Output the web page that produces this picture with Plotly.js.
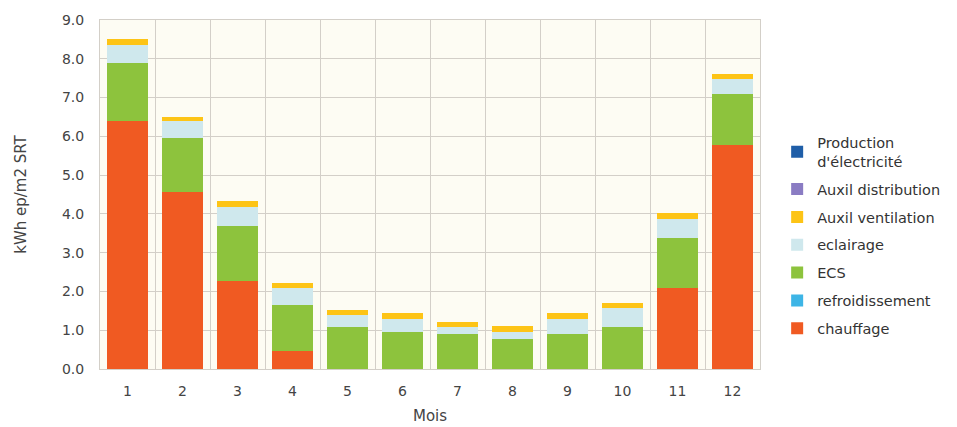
<!DOCTYPE html>
<html><head><meta charset="utf-8">
<script src="https://cdn.plot.ly/plotly-3.0.1.min.js"></script>
<style>html,body{margin:0;padding:0;background:#fff;}#chart{width:957px;height:427px;}</style>
</head><body><div id="chart"></div>
<script>
const months = ['1','2','3','4','5','6','7','8','9','10','11','12'];
const chauffage = [6.40, 4.57, 2.28, 0.47, 0, 0, 0, 0, 0, 0, 2.09, 5.77];
const refroidissement = [0,0,0,0,0,0,0,0,0,0,0,0];
const ecs = [1.50, 1.40, 1.40, 1.19, 1.09, 0.96, 0.90, 0.78, 0.90, 1.09, 1.29, 1.31];
const eclairage = [0.45, 0.43, 0.50, 0.43, 0.31, 0.32, 0.18, 0.18, 0.38, 0.49, 0.49, 0.39];
const auxilVentilation = [0.15, 0.11, 0.14, 0.12, 0.11, 0.16, 0.13, 0.16, 0.16, 0.13, 0.15, 0.15];
const auxilDistribution = [0,0,0,0,0,0,0,0,0,0,0,0];
const production = [0,0,0,0,0,0,0,0,0,0,0,0];
const yTicks = [0,1,2,3,4,5,6,7,8,9];
const yTickLabels = ['0.0','1.0','2.0','3.0','4.0','5.0','6.0','7.0','8.0','9.0'];

const series = [
  {name:'chauffage', y:chauffage, color:'#f05a22'},
  {name:'refroidissement', y:refroidissement, color:'#3db5e6'},
  {name:'ECS', y:ecs, color:'#8dc33d'},
  {name:'eclairage', y:eclairage, color:'#cfe8ed'},
  {name:'Auxil ventilation', y:auxilVentilation, color:'#fdc416'},
  {name:'Auxil distribution', y:auxilDistribution, color:'#8a7cc3'},
  {name:'Production<br>d\'électricité', y:production, color:'#1f5ea8'}
];
const n = series.length;
const traces = series.map((s,i)=>({
  type:'bar', x:months, y:s.y, name:s.name, legendgroup:'g'+i, legendrank:n-i,
  marker:{color:s.color, line:{width:0}}, hoverinfo:'skip'
}));
const F = 'DejaVu Sans, sans-serif';
Plotly.newPlot('chart', traces, {
  width:957, height:427,
  margin:{l:100, r:197, t:20, b:58},
  barmode:'stack', bargap:0.27,
  paper_bgcolor:'#ffffff', plot_bgcolor:'#fdfcf3',
  font:{family:F, size:14, color:'#444'},
  xaxis:{type:'category', tickson:'boundaries', showgrid:true, gridcolor:'#d3cfc8', gridwidth:1,
    ticks:'', showline:true, linecolor:'#d3cfc8', mirror:true, ticklabelstandoff:9,
    tickfont:{family:F, size:14, color:'#444'},
    title:{text:'Mois', font:{family:F, size:15, color:'#444'}, standoff:12}},
  yaxis:{range:[0,9], tickvals:yTicks, ticktext:yTickLabels, showgrid:true, gridcolor:'#d3cfc8',
    zeroline:false, showline:true, linecolor:'#d3cfc8', mirror:true, ticks:'', ticklabelstandoff:12,
    tickfont:{family:F, size:14, color:'#444'},
    title:{text:'kWh ep/m2 SRT', font:{family:F, size:15, color:'#444'}, standoff:31}},
  legend:{x:1.026, xanchor:'left', y:0.695, yanchor:'top', traceorder:'grouped', tracegroupgap:6,
    font:{family:F, size:14.5, color:'#333'}, bgcolor:'rgba(0,0,0,0)'},
  showlegend:true
}, {staticPlot:true});
</script></body></html>
